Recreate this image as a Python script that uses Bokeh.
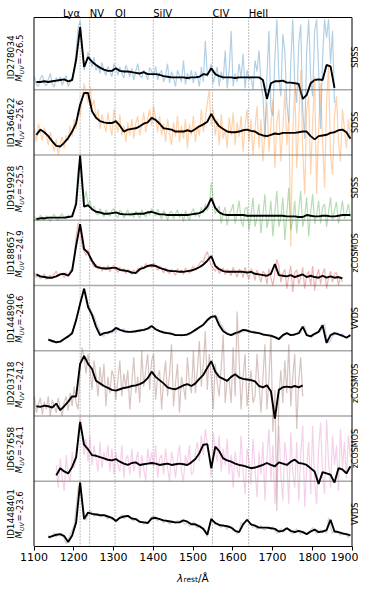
import numpy as np
from bokeh.plotting import figure
from bokeh.layouts import column
from bokeh.models import FixedTicker, Range1d
from bokeh.core.properties import value
from bokeh.embed import file_html
from bokeh.resources import INLINE

# ---------------- data ----------------
wavelength = list(range(1106, 1900, 10))      # smoothed-spectrum grid (80 points)
wavelength_raw = list(range(1101, 1900, 5))   # raw-spectrum grid (160 points)

object_ids = ["ID278034", "ID1364622", "ID919928", "ID188657",
              "ID1448906", "ID203718", "ID657658", "ID1448401"]
muv_values = ["-26.5", "-25.6", "-25.5", "-24.9", "-24.6", "-24.2", "-24.1", "-23.6"]
surveys = ["SDSS", "SDSS", "SDSS", "zCOSMOS", "VVDS", "zCOSMOS", "zCOSMOS", "VVDS"]
raw_colors = ["#1f77b4", "#ff7f0e", "#2ca02c", "#d62728",
              "#9467bd", "#8c564b", "#e377c2", "#7f7f7f"]

line_names = ["Ly\u03b1", "NV", "OI", "SiIV", "CIV", "HeII"]
line_wavelengths = [1216, 1240, 1304, 1400, 1549, 1640]
tick_values = [1100, 1200, 1300, 1400, 1500, 1600, 1700, 1800, 1900]

NA = None
smooth_1 = [.12,.12,.13,.12,.13,.14,.15,.16,.13,.15,
            .46,.96,.35,.50,.43,.38,.34,.31,.29,.29,
            .33,.29,.28,.28,.27,.26,.25,.27,.24,.24,
            .24,.23,.21,.20,.19,.19,.19,.19,.18,.19,
            .19,.20,.24,.23,.33,.24,.21,.19,.19,.19,
            .18,.19,.19,.19,.19,.19,.19,.15,-.14,.10,
            .13,.13,.14,.11,.11,.10,.09,-.14,-.08,.10,
            .15,.16,.15,.38,.36,.03,NA,NA,NA,NA]
raw_1 = [.20,.08,.05,.18,.22,.10,.06,.16,.25,.09,.04,.19,.12,.20,.07,.15,.22,.05,.12,.18,
         .30,.60,.95,1.05,.70,.30,.40,.58,.45,.35,.50,.30,.38,.25,.42,.30,.22,.36,.28,.20,
         .40,.33,.22,.35,.25,.18,.38,.30,.20,.33,.15,.28,.40,.22,.18,.30,.24,.15,.34,.28,
         .20,.36,.15,.25,.30,.12,.22,.40,.10,.28,.18,.05,.30,.22,.12,.45,.08,.25,.15,.30,
         .10,.28,.20,.05,.35,.12,.75,.20,.30,.40,.10,.22,.35,.05,.28,.15,.60,.02,.30,.90,
         .05,.25,.12,.40,.18,.55,.02,.30,.15,.20,.00,.45,.28,.60,.10,-.10,-.75,.20,.90,-.30,
         -.40,.50,1.08,.20,-.10,.85,.60,-.20,-.50,.40,1.08,.10,-.20,.70,1.00,-.30,-.75,.60,1.08,.20,
         -.10,.90,1.08,.30,-.60,.50,1.08,.80,1.08,.40,.90,-.20,NA,NA,NA,NA,NA,NA,NA,NA]

smooth_2 = [.31,.39,.35,.29,.21,.14,.13,.19,.26,.36,
            .49,.77,.95,.95,.67,.57,.52,.50,.49,.49,
            .52,.45,.36,.39,.40,.41,.44,.48,.50,.57,
            .54,.48,.41,.40,.39,.36,.36,.36,.38,.36,
            .40,.44,.47,.51,.63,.52,.44,.40,.36,.35,
            .35,.36,.38,.39,.37,.36,.32,.30,.29,.31,
            .33,.32,.34,.34,.34,.34,.35,.36,.36,.29,
            .24,.29,.30,.31,.34,.35,.38,.39,.35,.25]
raw_2 = [.40,.20,.48,.35,.22,.42,.30,.15,.35,.20,.05,.25,.00,.18,.28,.10,.30,.22,.45,.28,
         .55,.40,.70,.60,.85,1.10,.95,.80,1.05,.75,.85,.55,.70,.40,.62,.48,.35,.65,.45,.30,
         .70,.50,.35,.62,.30,.45,.20,.50,.30,.55,.25,.48,.60,.30,.45,.65,.35,.55,.70,.45,
         .75,.55,.35,.60,.30,.48,.20,.55,.35,.15,.50,.28,.60,.20,.45,.25,.55,.10,.48,.30,
         .60,.20,.45,.30,.70,.35,.55,.80,1.00,.45,.70,.30,.55,.15,.62,.25,.40,.10,.58,.30,
         .65,.15,.50,.28,.60,.05,.45,.70,.20,.55,.00,.40,.75,.10,.55,-.10,.35,.80,.05,.45,
         .85,-.20,.50,.70,-.10,.40,1.00,.15,.60,-1.40,.30,1.10,-.20,.50,1.30,.10,-.60,.70,.90,-.30,
         .50,1.20,-.60,.40,1.10,.20,-.50,.80,1.35,.00,-.30,.60,.90,.20,-.10,.70,.40,.10,.55,.25]

smooth_3 = [.02,.03,.03,.04,.04,.04,.04,.04,.05,.06,
            .25,.99,.21,.23,.17,.13,.12,.10,.10,.11,
            .12,.10,.09,.09,.09,.10,.10,.10,.12,.13,
            .11,.09,.09,.08,.08,.08,.08,.08,.08,.09,
            .10,.11,.14,.21,.34,.19,.12,.09,.08,.08,
            .08,.08,.08,.07,.07,.07,.07,.07,.07,.07,
            .07,.07,.07,.06,.06,.06,.05,.05,.08,.07,
            .06,.06,.07,.07,.06,.06,.07,.08,.08,.08]
raw_3 = [.06,.01,-.01,.08,.04,.00,.07,.03,-.02,.06,.09,.02,.00,.07,.10,.03,.02,.08,.04,.10,
         .15,.35,.80,.90,.50,.30,.45,.25,.30,.15,.22,.10,.08,.18,.12,.05,.16,.10,.06,.15,
         .18,.08,.04,.15,.12,.03,.10,.16,.06,.12,.04,.14,.09,.03,.16,.10,.05,.14,.08,.18,
         .13,.06,.17,.09,.02,.15,.10,.00,.12,.14,.02,.10,.16,.04,.11,-.02,.15,.07,.00,.12,
         .18,.06,.12,.04,.20,.10,.25,.15,.22,.58,.30,.10,.16,.22,-.05,.12,.20,-.08,.10,.15,
         .25,-.05,.12,.30,.00,-.10,.18,.20,-.15,.08,.35,-.10,.05,.25,-.20,.10,.40,-.12,.02,.30,
         -.25,.12,.45,-.10,.05,.35,-.30,.10,.50,-.15,.00,.30,-.20,.15,.45,-.10,.05,.35,-.25,.12,
         .40,-.05,.08,.30,-.05,.20,.25,-.10,.12,.35,.00,.15,.28,-.05,.10,.30,.02,.12,.25,.05]

smooth_4 = [.17,.14,.13,.12,.12,.14,.17,.18,.15,.23,
            .61,.94,.56,.50,.38,.29,.27,.26,.26,.27,
            .27,.24,.23,.22,.20,.19,.25,.27,.30,.31,
            .30,.27,.25,.23,.22,.22,.21,.21,.22,.23,
            .25,.28,.32,.38,.45,.30,.25,.22,.21,.21,
            .21,.21,.21,.20,.21,.18,.17,.16,.15,.18,
            .33,.16,.15,.14,.16,.13,.15,.17,.13,.15,
            .13,.12,.15,.12,.14,.12,.13,.11,NA,NA]
raw_4 = [.20,.12,.16,.10,.14,.18,.09,.13,.16,.11,.18,.22,.14,.19,.17,.12,.20,.15,.23,.26,
         .45,.75,.96,.90,.60,.52,.46,.55,.40,.35,.28,.33,.25,.30,.22,.29,.24,.31,.21,.28,
         .31,.24,.20,.28,.22,.26,.18,.25,.21,.17,.24,.20,.26,.23,.30,.25,.34,.28,.32,.27,
         .35,.29,.23,.30,.26,.19,.27,.22,.18,.25,.21,.16,.26,.20,.24,.17,.27,.22,.19,.25,
         .30,.24,.28,.33,.38,.35,.46,.52,.40,.30,.26,.22,.30,.18,.24,.27,.17,.25,.21,.15,
         .28,.20,.13,.25,.22,.12,.28,.17,.10,.26,.20,.08,.24,.15,.05,.22,.18,.02,.26,.12,
         .00,.20,.40,.30,.05,.18,.25,-.05,.15,.30,-.10,.20,.24,.02,.12,.28,-.05,.16,.22,.00,
         .30,-.08,.14,.25,.02,.18,.26,-.05,.12,.22,.05,.18,.20,.00,.14,.05,NA,NA,NA,NA]

smooth_5 = [NA,NA,NA,.17,.15,.13,.14,.18,.22,.27,
            .47,.72,.95,.67,.55,.37,.24,.27,.28,.30,
            .35,.32,.30,.29,.29,.30,.31,.32,.34,.38,
            .33,.30,.28,.27,.26,.24,.24,.24,.25,.28,
            .32,.36,.40,.47,.52,.53,.39,.30,.26,.24,
            .27,.29,.32,.31,.29,.28,.27,.25,.24,.23,
            .21,.18,.24,.27,.24,.25,.27,.37,.24,.22,
            .26,.29,.39,.12,.24,.27,.25,.23,.20,.24]
raw_5 = [NA,NA,NA,NA,NA,NA,NA,.19,.15,.13,.16,.12,.15,.14,.17,.19,.21,.23,.25,.29,
         .38,.49,.60,.74,.85,.96,.88,.70,.66,.58,.53,.45,.37,.30,.24,.22,.28,.25,.29,.27,
         .31,.28,.36,.33,.31,.34,.29,.31,.28,.31,.30,.28,.31,.29,.33,.30,.32,.35,.33,.38,
         .36,.32,.33,.29,.31,.28,.29,.26,.28,.25,.27,.23,.25,.24,.22,.25,.23,.26,.24,.27,
         .29,.31,.33,.35,.37,.39,.42,.45,.48,.51,.53,.55,.52,.46,.40,.35,.30,.28,.25,.26,
         .24,.25,.28,.26,.30,.28,.33,.31,.31,.29,.30,.27,.28,.26,.27,.24,.25,.23,.24,.22,
         .23,.20,.21,.17,.19,.22,.25,.27,.25,.23,.25,.24,.26,.28,.27,.36,.38,.26,.24,.21,
         .22,.25,.27,.30,.29,.38,.41,.20,.12,.15,.23,.25,.28,.26,.24,.26,.22,.20,.22,.25]

smooth_6 = [.15,.14,.16,.15,.13,.19,.09,.15,.22,.30,
            .30,.80,.92,.80,.72,.54,.50,.46,.43,.40,
            .39,.41,.43,.44,.46,.47,.49,.52,.58,.68,
            .60,.55,.50,.44,.42,.41,.44,.47,.49,.46,
            .50,.57,.63,.74,.84,.68,.60,.57,.54,.60,
            .64,.59,.57,.56,.55,.53,.46,.44,.47,.38,
            -.04,.40,.44,.45,.44,.46,.44,.47,NA,NA,
            NA,NA,NA,NA,NA,NA,NA,NA,NA,NA]
raw_6 = [.30,.05,.18,.28,.02,.22,.10,.30,.00,.25,.15,.05,.28,.12,.00,.22,.30,.08,.35,.15,
         .45,.20,.10,.70,1.05,.90,.65,.95,.70,.40,.85,.62,.30,.75,.45,.80,.15,.60,.35,.70,
         .60,.25,.55,.85,.30,.65,.45,.70,.10,.50,.90,.35,.60,.20,1.00,.45,.70,.95,.40,.85,
         .95,.25,.60,.70,.10,.55,.85,.30,.65,1.10,.15,.50,.80,.05,.60,.45,.25,.90,.50,.35,
         1.00,.35,.70,1.15,.45,.80,1.30,.40,.95,.60,.10,.80,.50,.30,.75,1.25,.20,.55,.55,.20,
         1.05,.30,1.60,.85,.10,.60,.95,.15,.45,.70,.20,.30,.95,.50,.05,.60,1.10,.10,.55,1.25,
         -.25,.40,-1.45,.30,.70,.20,.85,.35,1.10,.15,.60,.95,-.20,.55,.90,.30,NA,NA,NA,NA,
         NA,NA,NA,NA,NA,NA,NA,NA,NA,NA,NA,NA,NA,NA,NA,NA,NA,NA,NA,NA]

smooth_7 = [NA,NA,NA,NA,NA,.09,.20,.15,.12,.22,
            .37,.91,.56,.49,.40,.39,.37,.35,.33,.32,
            .34,.30,.27,.25,.28,.29,.25,.26,.27,.28,
            .27,.25,.26,.27,.25,.26,.27,.26,.25,.29,
            .34,.43,.56,.57,.20,.53,.46,.35,.32,.30,
            .27,.25,.24,.22,.20,.21,.23,.25,.28,.25,
            .23,.29,.27,.25,.30,.33,.28,.27,.25,.20,
            .15,-.04,.14,.12,.10,-.02,.20,.18,.12,.23]
raw_7 = [NA,NA,NA,NA,NA,NA,NA,NA,NA,NA,NA,.25,-.10,.35,.05,-.15,.40,.10,.00,.45,
         .20,.35,.70,1.00,.75,.40,.65,.30,.70,.25,.55,.35,.15,.60,.20,.45,.30,.55,.15,.50,
         .10,.45,.25,.15,.55,.05,.35,.40,.10,.50,.15,.30,.45,.05,.40,.20,.00,.50,.25,.45,
         .20,.55,.05,.35,.40,.10,.50,.20,.00,.45,.30,.05,.35,.55,.15,.00,.40,.25,.55,.10,
         .15,.45,.60,.30,.70,.40,.80,.55,.35,.05,.75,.50,.30,.70,.15,.50,.25,.65,.10,.40,
         -.10,.45,.20,.05,.70,.15,-.20,.50,.30,-.05,.65,.20,-.25,.45,.10,.60,-.30,.35,.80,.00,
         .55,-.35,.20,.85,.10,-.30,.60,.30,-.35,.75,.15,-.10,.60,-.30,.40,.85,-.40,.20,.60,-.20,
         .85,.00,-.35,.50,.90,.10,-.20,.95,.30,-.10,.70,.25,.55,-.15,.80,.20,.60,.05,.70,.35]

smooth_8 = [NA,NA,NA,.14,.16,.18,.19,.16,.07,.17,
            .37,.98,.42,.52,.50,.49,.48,.48,.46,.44,
            .39,.44,.46,.47,.43,.42,.38,.37,.36,.43,
            .44,.42,.40,.39,.38,.37,.37,.40,.38,.34,
            .34,.31,.27,.18,.42,.36,.33,.32,.31,.29,
            .24,.22,.34,.41,.34,.32,.29,.29,.29,.28,
            .27,.23,.24,.28,.24,.22,.24,.22,.19,.23,
            .26,.22,.23,.25,.41,.23,.22,.20,.19,.17]
raw_8 = [NA,NA,NA,NA,NA,NA,NA,.18,.12,.16,.21,.15,.18,.16,.19,.12,.04,.10,.20,.25,
         .33,.60,.90,1.00,.70,.46,.40,.49,.55,.53,.46,.50,.51,.45,.48,.49,.44,.42,.46,.41,
         .42,.38,.41,.45,.49,.43,.44,.47,.46,.41,.39,.43,.41,.36,.38,.34,.39,.36,.40,.45,
         .47,.42,.39,.43,.40,.36,.41,.38,.34,.40,.37,.35,.40,.38,.41,.36,.34,.37,.31,.35,
         .37,.32,.28,.33,.30,.25,.24,.15,.30,.45,.38,.33,.36,.32,.29,.34,.30,.26,.32,.28,
         .27,.24,.19,.23,.37,.33,.38,.42,.37,.33,.29,.32,.26,.30,.32,.27,.25,.29,.30,.26,
         .30,.25,.20,.24,.27,.22,.25,.29,.27,.22,.19,.25,.27,.22,.19,.24,.22,.18,.23,.25,
         .29,.24,.19,.22,.26,.21,.24,.20,.44,.30,.20,.24,.25,.21,.17,.22,.20,.17,.14,.18]

smooth_all = [smooth_1, smooth_2, smooth_3, smooth_4, smooth_5, smooth_6, smooth_7, smooth_8]
raw_all = [raw_1, raw_2, raw_3, raw_4, raw_5, raw_6, raw_7, raw_8]

# ---------------- layout constants (pixels) ----------------
FONT = value("DejaVu Sans")
W = 358
MAIN_H = 565
LABEL_H = 18
BOX_LEFT_PX = 33.5
BOX_RIGHT_PX = 351.5
BOX_BOTTOM_PX = 546.0
BOX_TOP_PX = 17.0
N_UNITS_BOX = 8.108        # panel units spanned by the box
PX_PER_A = (BOX_RIGHT_PX - BOX_LEFT_PX) / (tick_values[-1] - tick_values[0])
PX_PER_U = (BOX_BOTTOM_PX - BOX_TOP_PX) / N_UNITS_BOX

X0 = tick_values[0] - BOX_LEFT_PX / PX_PER_A
X1 = X0 + W / PX_PER_A
Y_BOX_TOP = N_UNITS_BOX


def xpx(px):
    return X0 + px / PX_PER_A


def ypx(py):
    return (BOX_BOTTOM_PX - py) / PX_PER_U


n_panels = len(object_ids)
x_range = Range1d(X0, X1)

p = figure(width=W, height=MAIN_H, x_range=x_range, y_range=(0, BOX_BOTTOM_PX / PX_PER_U),
           output_backend="svg", toolbar_location=None, y_axis_type=None,
           min_border_left=0, min_border_right=0, min_border_top=0,
           min_border_bottom=MAIN_H - int(BOX_BOTTOM_PX))
p.xgrid.visible = False
p.outline_line_color = None
p.background_fill_color = "white"
p.border_fill_color = "white"

xa = p.xaxis[0]
xa.bounds = (tick_values[0], tick_values[-1])
xa.ticker = FixedTicker(ticks=tick_values)
xa.major_label_text_font = "DejaVu Sans"
xa.major_label_text_font_size = "11px"
xa.major_label_text_color = "black"
xa.major_tick_out = 4
xa.major_tick_in = 0
xa.minor_tick_out = 0
xa.minor_tick_in = 0
xa.major_label_standoff = 2
xa.axis_line_color = "black"
xa.axis_line_width = 1
xa.major_tick_line_color = "black"


def fit(vals, n):
    vals = list(vals)[:n] + [None] * max(0, n - len(vals))
    return np.array(vals, dtype=float)


wl = np.array(wavelength, dtype=float)
wl_raw = np.array(wavelength_raw, dtype=float)
x_lo, x_hi = tick_values[0], tick_values[-1]

# guide lines
p.segment(x0=line_wavelengths, y0=[0] * len(line_wavelengths),
          x1=line_wavelengths, y1=[Y_BOX_TOP] * len(line_wavelengths),
          line_color="#808080", line_dash="1 2", line_width=1)
base_levels = list(range(1, n_panels))
p.segment(x0=[x_lo] * len(base_levels), y0=base_levels,
          x1=[x_hi] * len(base_levels), y1=base_levels,
          line_color="#a8a8a8", line_width=1.5)

for i in range(n_panels):
    off = n_panels - 1 - i
    raw = fit(raw_all[i], len(wl_raw)) + off
    sm = fit(smooth_all[i], len(wl)) + off
    p.line(wl_raw, raw, line_color=raw_colors[i], line_alpha=0.35, line_width=1.2)
    p.line(wl, sm, line_color="black", line_width=1.9)

# box (left, right, top edges; bottom edge is the axis line)
p.segment(x0=[x_lo, x_hi, x_lo], y0=[0, 0, Y_BOX_TOP],
          x1=[x_lo, x_hi, x_hi], y1=[Y_BOX_TOP, Y_BOX_TOP, Y_BOX_TOP],
          line_color="black", line_width=1)

# left / right panel labels
yc = [n_panels - 1 - i + 0.5 for i in range(n_panels)]
up = lambda d: [y + d / PX_PER_U for y in yc]
rot = np.pi / 2
p.text(x=[xpx(10)] * n_panels, y=yc, text=object_ids, angle=rot,
       text_align="center", text_baseline="middle",
       text_font=FONT, text_font_size=value("9px"), text_color="black")
p.text(x=[xpx(18.5)] * n_panels, y=up(-24.6), text=["M"] * n_panels, angle=rot,
       text_align="left", text_baseline="middle", text_font_style="italic",
       text_font=FONT, text_font_size=value("8.5px"), text_color="black")
p.text(x=[xpx(21.0)] * n_panels, y=up(-17.0), text=["UV"] * n_panels, angle=rot,
       text_align="left", text_baseline="middle", text_font_style="italic",
       text_font=FONT, text_font_size=value("6px"), text_color="black")
p.text(x=[xpx(18.5)] * n_panels, y=up(-7.5), text=["="] * n_panels, angle=rot,
       text_align="left", text_baseline="middle",
       text_font=FONT, text_font_size=value("8.5px"), text_color="black")
p.text(x=[xpx(18.5)] * n_panels, y=up(0.6), text=muv_values, angle=rot,
       text_align="left", text_baseline="middle",
       text_font=FONT, text_font_size=value("8.5px"), text_color="black")
p.text(x=[xpx(354.5)] * n_panels, y=yc, text=surveys, angle=rot,
       text_align="center", text_baseline="middle",
       text_font=FONT, text_font_size=value("8px"), text_color="black")

# emission line names above the box
y_names = ypx(12.7)
p.text(x=line_wavelengths[:1], y=[y_names], text=line_names[:1],
       text_align="right", text_baseline="alphabetic",
       text_font=FONT, text_font_size=value("10px"), text_color="black")
p.text(x=line_wavelengths[1:], y=[y_names] * (len(line_names) - 1), text=line_names[1:],
       text_align="left", text_baseline="alphabetic",
       text_font=FONT, text_font_size=value("10px"), text_color="black")

# ---------------- x-axis label strip ----------------
q = figure(width=W, height=LABEL_H, x_range=x_range, y_range=(0, LABEL_H),
           output_backend="svg", toolbar_location=None,
           x_axis_type=None, y_axis_type=None,
           min_border_left=0, min_border_right=0, min_border_top=0, min_border_bottom=0)
q.outline_line_color = None
q.background_fill_color = "white"
q.border_fill_color = "white"

xc = (x_lo + x_hi) / 2
a = 1 / PX_PER_A
q.text(x=[xc - 16.0 * a], y=[6.0], text=["\u03bb"], text_align="left", text_baseline="alphabetic",
       text_font_style="italic", text_font=FONT, text_font_size=value("10.5px"), text_color="black")
q.text(x=[xc - 9.5 * a], y=[4.0], text=["rest"], text_align="left", text_baseline="alphabetic",
       text_font=FONT, text_font_size=value("7.5px"), text_color="black")
q.text(x=[xc + 5.0 * a], y=[6.0], text=["/\u00c5"], text_align="left", text_baseline="alphabetic",
       text_font=FONT, text_font_size=value("10.5px"), text_color="black")

layout = column(p, q, spacing=0)
open("out.html", "w").write(file_html(layout, INLINE))
